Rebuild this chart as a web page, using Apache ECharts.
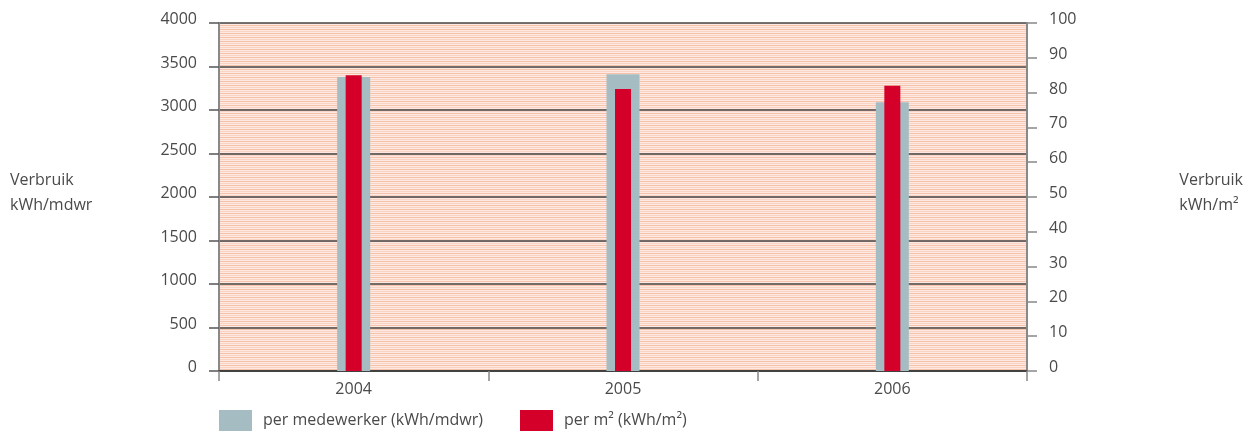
<!DOCTYPE html>
<html>
<head>
<meta charset="utf-8">
<script src="https://cdn.jsdelivr.net/npm/echarts@6/dist/echarts.min.js"></script>
<style>html,body{margin:0;padding:0;background:#fff}#c{width:1248px;height:433px}</style>
</head>
<body>
<div id="c"></div>
<script>
const categories = ['2004', '2005', '2006'];
const perMedewerker = [3380, 3410, 3090];
const perM2 = [85, 81, 82];
const leftTicks = [0, 500, 1000, 1500, 2000, 2500, 3000, 3500, 4000];
const rightTicks = [0, 10, 20, 30, 40, 50, 60, 70, 80, 90, 100];
const nameMedewerker = 'per medewerker (kWh/mdwr)';
const nameM2 = 'per m² (kWh/m²)';

const pc = document.createElement('canvas');
pc.width = 4; pc.height = 4;
const g = pc.getContext('2d');
g.fillStyle = '#fde9e2'; g.fillRect(0, 0, 4, 4);
g.fillStyle = '#f6c3aa'; g.fillRect(0, 1, 4, 1);
g.fillStyle = '#f9d3c3'; g.fillRect(0, 3, 4, 1);

const font = "'Open Sans', 'Noto Sans', sans-serif";
const txt = '#4a4a4a';
const fs = 16;
const tickRich = { t: { color: txt, fontSize: fs, fontFamily: font, lineHeight: 16, padding: [0, 0, 7, 0] } };

const chart = echarts.init(document.getElementById('c'));
chart.setOption({
  animation: false,
  grid: {
    left: 219, right: 221, top: 23, bottom: 62,
    show: true, borderWidth: 0,
    backgroundColor: { image: pc, repeat: 'repeat' }
  },
  legend: [
    { data: [nameMedewerker], left: 219, top: 410, itemWidth: 33, itemHeight: 21, icon: 'rect',
      textStyle: { color: txt, fontSize: fs, fontFamily: font, padding: [0, 0, 0, 6] }, padding: 0, selectedMode: false },
    { data: [nameM2], left: 520, top: 410, itemWidth: 33, itemHeight: 21, icon: 'rect',
      textStyle: { color: txt, fontSize: fs, fontFamily: font, padding: [0, 0, 0, 6] }, padding: 0, selectedMode: false }
  ],
  graphic: [
    { type: 'text', left: 10, top: 168, style: { text: 'Verbruik\nkWh/mdwr', fill: txt, font: fs + "px " + font, lineHeight: 25 } },
    { type: 'text', right: 5, top: 168, style: { text: 'Verbruik\nkWh/m²', fill: txt, font: fs + "px " + font, lineHeight: 25, align: 'right' } }
  ],
  xAxis: [
    {
      type: 'category', data: categories, boundaryGap: true,
      axisLine: { show: true, lineStyle: { color: '#333', width: 1.5 } },
      axisTick: { show: true, interval: 0, length: 10, lineStyle: { color: '#888', width: 1.5 } },
      axisLabel: { color: txt, fontSize: fs, fontFamily: font, margin: 10 }
    },
    {
      type: 'category', data: categories, boundaryGap: true, position: 'bottom', show: false
    }
  ],
  yAxis: [
    {
      type: 'value', min: 0, max: 4000, interval: 500, position: 'left',
      axisLine: { show: true, lineStyle: { color: '#888', width: 2 } },
      axisTick: { show: true, length: 10, lineStyle: { color: '#555', width: 1.5 } },
      axisLabel: { margin: 22, rich: tickRich,
        formatter: v => leftTicks.includes(v) ? '{t|' + v + '}' : '' },
      splitLine: { show: true, lineStyle: { color: '#444', width: 1.5 } }
    },
    {
      type: 'value', min: 0, max: 100, interval: 10, position: 'right',
      axisLine: { show: true, lineStyle: { color: '#888', width: 2 } },
      axisTick: { show: true, length: 10, lineStyle: { color: '#888', width: 1.5 } },
      axisLabel: { margin: 22, rich: tickRich,
        formatter: v => rightTicks.includes(v) ? '{t|' + v + '}' : '' },
      splitLine: { show: false }
    }
  ],
  series: [
    { name: nameMedewerker, type: 'bar', xAxisIndex: 0, yAxisIndex: 0, data: perMedewerker, barWidth: 33,
      itemStyle: { color: '#a6bcc3' }, z: 2 },
    { name: nameM2, type: 'bar', xAxisIndex: 1, yAxisIndex: 1, data: perM2, barWidth: 16,
      itemStyle: { color: '#d50029' }, z: 3 }
  ]
});
</script>
</body>
</html>
